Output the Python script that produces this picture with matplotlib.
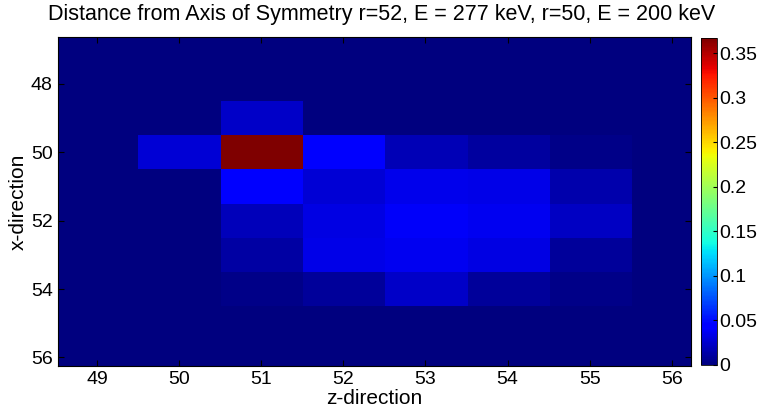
import numpy as np
import matplotlib
matplotlib.use('Agg')
import matplotlib.pyplot as plt

plt.rcParams['font.family'] = ['Liberation Sans', 'DejaVu Sans']

# rows = x-direction 47..56, columns = z-direction 49..56
x_dir = [47, 48, 49, 50, 51, 52, 53, 54, 55, 56]
z_dir = [49, 50, 51, 52, 53, 54, 55, 56]

counts = np.array([
    [0.000, 0.000, 0.000, 0.000, 0.000, 0.000, 0.000, 0.000],
    [0.000, 0.000, 0.000, 0.000, 0.000, 0.000, 0.000, 0.000],
    [0.000, 0.000, 0.024, 0.000, 0.000, 0.000, 0.000, 0.000],
    [0.000, 0.028, 0.367, 0.045, 0.018, 0.011, 0.004, 0.000],
    [0.000, 0.000, 0.043, 0.028, 0.035, 0.034, 0.015, 0.000],
    [0.000, 0.000, 0.020, 0.032, 0.040, 0.036, 0.022, 0.000],
    [0.000, 0.000, 0.012, 0.034, 0.037, 0.032, 0.009, 0.000],
    [0.000, 0.000, 0.004, 0.009, 0.024, 0.010, 0.003, 0.000],
    [0.000, 0.000, 0.000, 0.000, 0.000, 0.000, 0.000, 0.000],
    [0.000, 0.000, 0.000, 0.000, 0.000, 0.000, 0.000, 0.000],
])

fig = plt.figure(figsize=(7.63, 4.09), dpi=100)
ax = fig.add_axes([0.0754, 0.1059, 0.8298, 0.8036])
cax = fig.add_axes([0.9187, 0.1076, 0.0206, 0.7994])

im = ax.imshow(counts, cmap='jet', vmin=0, vmax=counts.max(), aspect='auto',
               interpolation='nearest',
               extent=(z_dir[0] - 0.5, z_dir[-1] + 0.5, x_dir[-1] + 0.5, x_dir[0] - 0.5))
ax.set_xlim(48.52, 56.23)
ax.set_ylim(56.24, 46.63)
ax.set_xticks(z_dir)
ax.set_yticks([48, 50, 52, 54, 56])
ax.tick_params(direction='in', length=4, labelsize=14, top=True, right=True,
               labeltop=False, labelright=False)
ax.set_xlabel('z-direction', fontsize=15, labelpad=1)
ax.set_ylabel('x-direction', fontsize=15, labelpad=2)
fig.suptitle('Distance from Axis of Symmetry r=52, E = 277 keV, r=50, E = 200 keV',
             fontsize=15.5, x=0.5, y=0.99)

cb = fig.colorbar(im, cax=cax)
cb.set_ticks([0, 0.05, 0.1, 0.15, 0.2, 0.25, 0.3, 0.35])
cb.set_ticklabels(['0', '0.05', '0.1', '0.15', '0.2', '0.25', '0.3', '0.35'])
cax.tick_params(direction='in', length=3, labelsize=14, pad=2)
cb.outline.set_linewidth(0.6)

fig.savefig('out.png', dpi=100)
